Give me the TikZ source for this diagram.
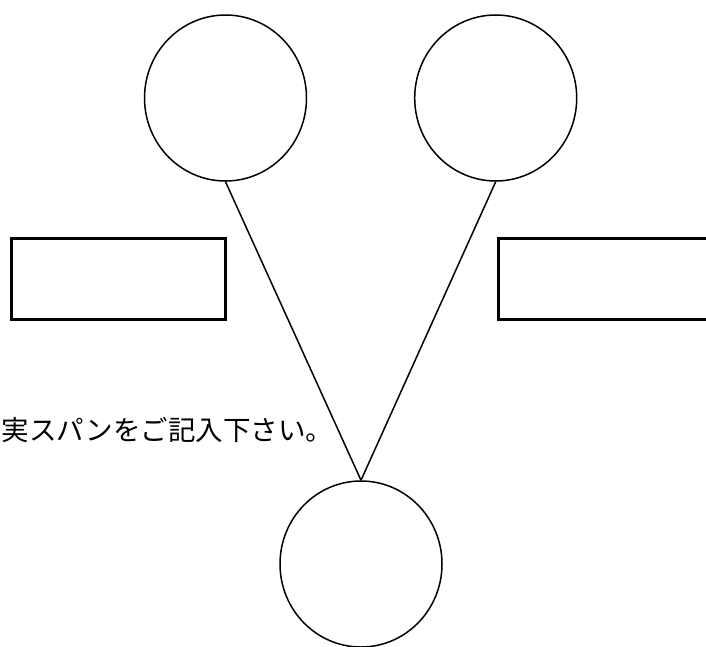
\documentclass[tikz,border=0pt]{standalone}
\usepackage{fontspec}
\newfontfamily\jpfont{Noto Sans CJK JP}
\usetikzlibrary{shapes.geometric}
\begin{document}
\begin{tikzpicture}[x=1pt,y=-1pt,
  ring/.style={draw=black,line width=1.5pt,ellipse,minimum width=162pt,minimum height=166pt,inner sep=0pt},
  boxframe/.style={draw=black,line width=3pt,inner sep=0pt},
  link/.style={draw=black,line width=1.5pt}]
\useasboundingbox (0,0) rectangle (706,646);
\clip (0,0) rectangle (706,646);
\node[ring] (tl) at (225.5,98) {};
\node[ring] (tr) at (495.7,98) {};
\node[ring] (bt) at (361,564) {};
\node[boxframe,minimum width=214pt,minimum height=81.5pt] (lb) at (118.5,278.75) {};
\node[boxframe,minimum width=230pt,minimum height=81.5pt] (rb) at (613,278.75) {};
\draw[link] (tl.south) -- (bt.north);
\draw[link] (tr.south) -- (bt.north);
\node[anchor=base west,inner sep=0pt,font=\jpfont\fontsize{27.5pt}{30pt}\selectfont] (txt) at (1.5,440) {実スパンをご記入下さい。};
\end{tikzpicture}
\end{document}
